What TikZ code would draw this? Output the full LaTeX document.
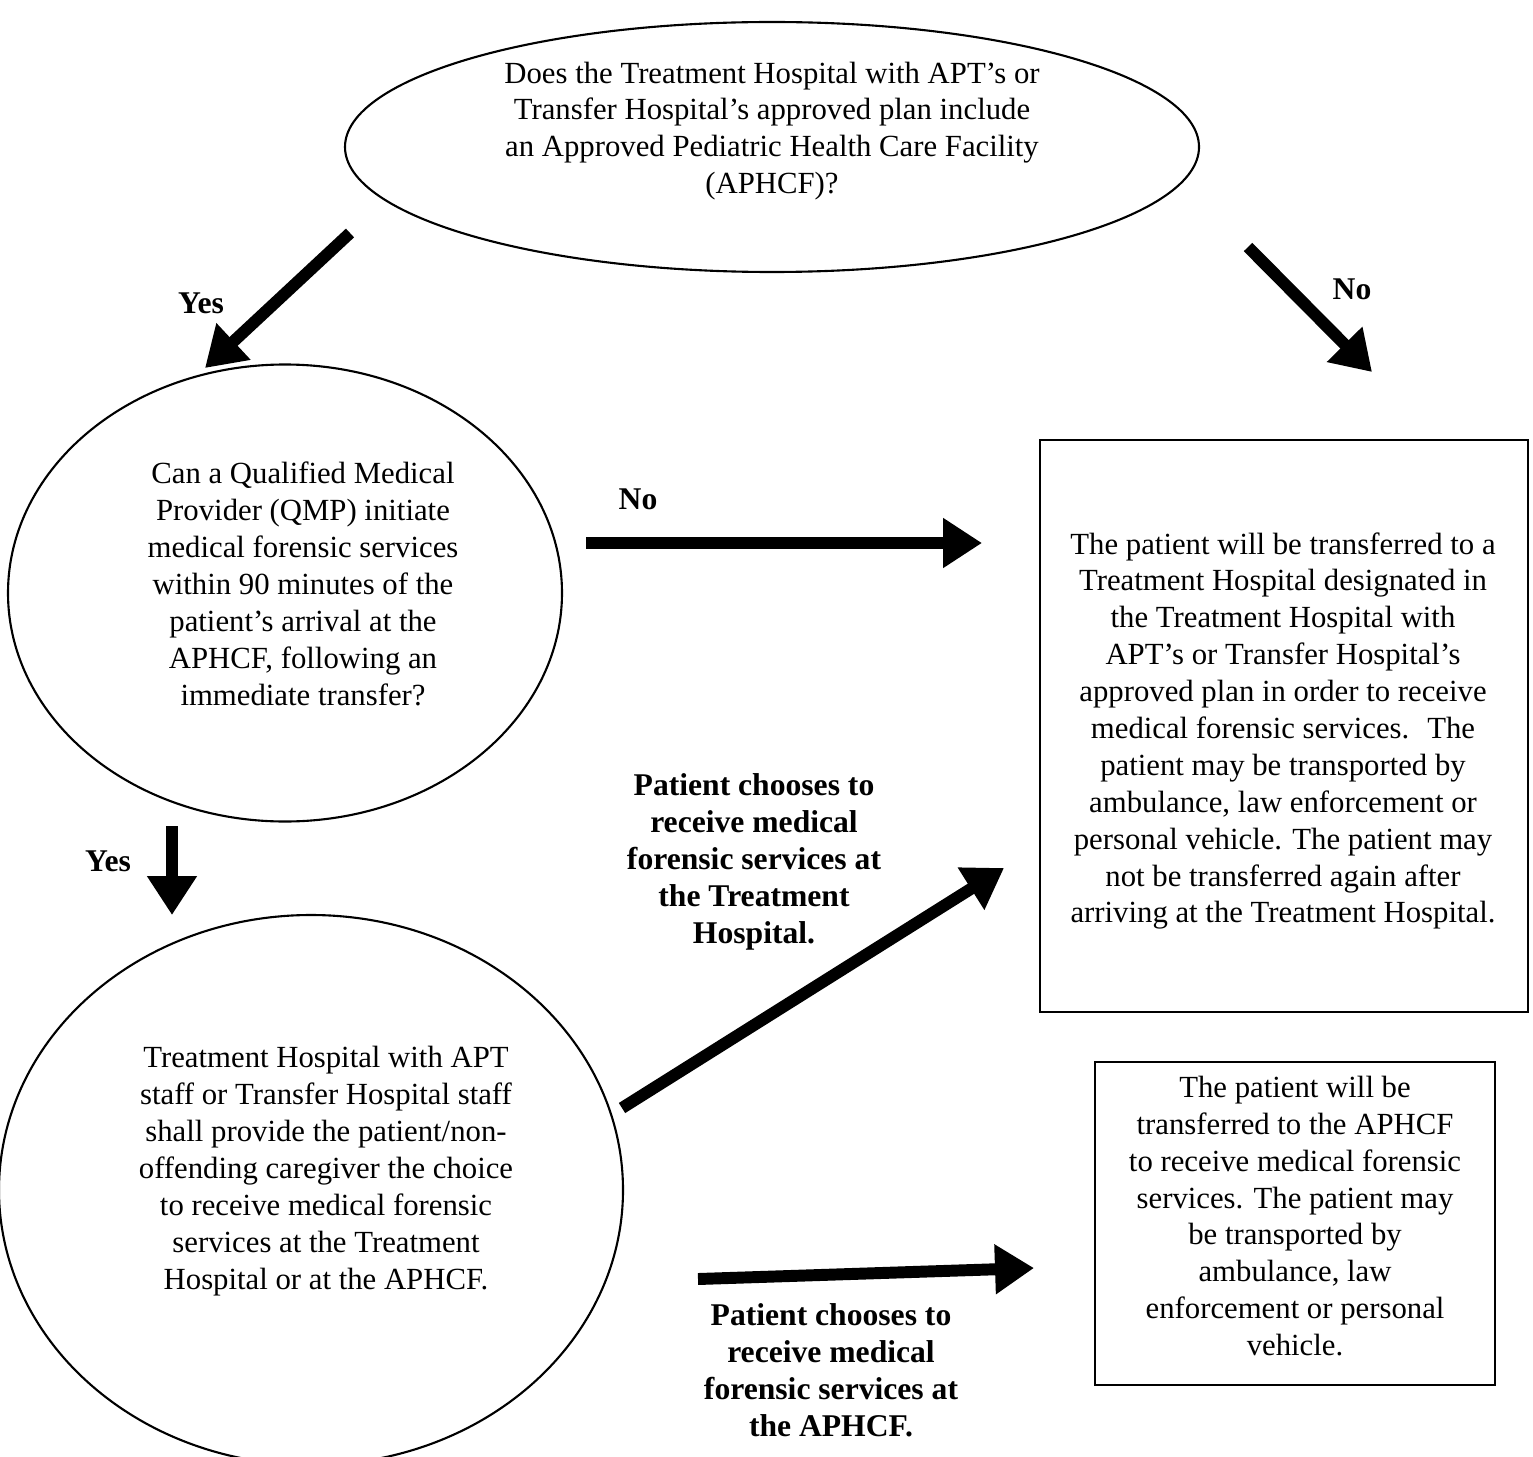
\documentclass[tikz,border=0pt]{standalone}
\usepackage{fontspec}
\setmainfont{Liberation Serif}
\usetikzlibrary{shapes.geometric,arrows.meta}
\begin{document}
\begin{tikzpicture}[x=0.02cm,y=-0.02cm,
  txt/.style={align=center,inner sep=0pt,font=\fontsize{17.5}{21}\selectfont},
  lbl/.style={align=center,inner sep=0pt,font=\fontsize{18}{21}\selectfont\bfseries},
  oval/.style={draw,ellipse,line width=1.2pt,inner sep=0pt},
  box/.style={draw,rectangle,line width=1.6pt,inner sep=0pt},
  fat/.style={line width=6.8pt,-{Triangle[length=0.78cm,width=0.95cm]}}]
\useasboundingbox (0,0) rectangle (1533,1456);
\clip (0,0) rectangle (1533,1456);
% shapes
\node[oval,minimum width=854*0.02cm,minimum height=250*0.02cm] (q1) at (772,147) {};
\node[oval,minimum width=554*0.02cm,minimum height=457*0.02cm] (q2) at (285,593) {};
\node[oval,minimum width=624*0.02cm,minimum height=550*0.02cm] (q3) at (311,1190) {};
\node[box,minimum width=488*0.02cm,minimum height=572*0.02cm] (b1) at (1284,726) {};
\node[box,minimum width=400*0.02cm,minimum height=323*0.02cm] (b2) at (1295,1223.5) {};
% texts
\node[txt] (t1) at (772,131) {Does the Treatment Hospital with APT’s or\\Transfer Hospital’s approved plan include\\an Approved Pediatric Health Care Facility\\(APHCF)?};
\node[txt] (t2) at (303,584) {Can a Qualified Medical\\Provider (QMP) initiate\\medical forensic services\\within 90 minutes of the\\patient’s arrival at the\\APHCF, following an\\immediate transfer?};
\node[txt] (t3) at (326,1171) {Treatment Hospital with APT\\staff or Transfer Hospital staff\\shall provide the patient/non-\\offending caregiver the choice\\to receive medical forensic\\services at the Treatment\\Hospital or at the APHCF.};
\node[txt] (t4) at (1283,731) {The patient will be transferred to a\\Treatment Hospital designated in\\the Treatment Hospital with\\APT’s or Transfer Hospital’s\\approved plan in order to receive\\medical forensic services.~ The\\patient may be transported by\\ambulance, law enforcement or\\personal vehicle. The patient may\\not be transferred again after\\arriving at the Treatment Hospital.};
\node[txt] (t5) at (1295,1216) {The patient will be\\transferred to the APHCF\\to receive medical forensic\\services. The patient may\\be transported by\\ambulance, law\\enforcement or personal\\vehicle.};
% labels
\node[lbl] (y1) at (201,303) {Yes};
\node[lbl] (n1) at (1352,289) {No};
\node[lbl] (n2) at (638,499) {No};
\node[lbl] (y2) at (108,861) {Yes};
\node[lbl] (l1) at (754,862) {Patient chooses to\\receive medical\\forensic services at\\the Treatment\\Hospital.};
\node[lbl] (l2) at (831,1370) {Patient chooses to\\receive medical\\forensic services at\\the APHCF.};
% arrow ends
\coordinate (a1s) at (350,233); \coordinate (a1e) at (205,368);
\coordinate (a2s) at (1248,247); \coordinate (a2e) at (1372,372);
\coordinate (a3s) at (586,543); \coordinate (a3e) at (982,543);
\coordinate (a4s) at (172,826); \coordinate (a4e) at (172,915);
\coordinate (a5s) at (622,1108); \coordinate (a5e) at (1004,868);
\coordinate (a6s) at (698,1279); \coordinate (a6e) at (1034,1268);
\draw[fat] (a1s) -- (a1e);
\draw[fat] (a2s) -- (a2e);
\draw[fat] (a3s) -- (a3e);
\draw[fat] (a4s) -- (a4e);
\draw[fat] (a5s) -- (a5e);
\draw[fat] (a6s) -- (a6e);
\end{tikzpicture}
\end{document}
